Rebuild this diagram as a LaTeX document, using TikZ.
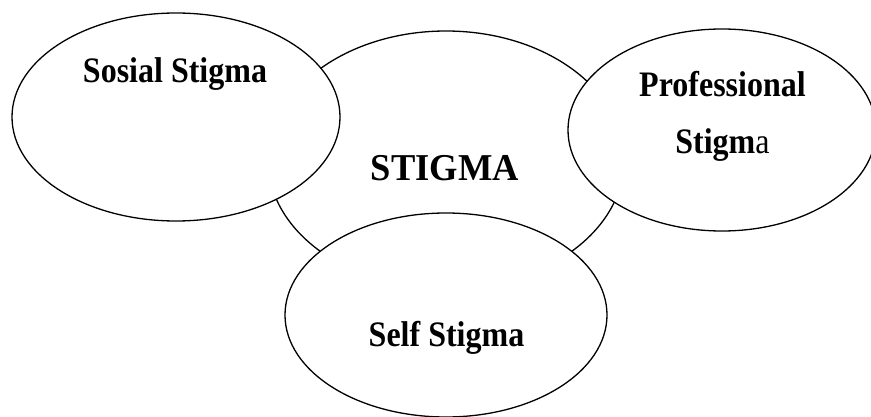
\documentclass[tikz,border=0pt]{standalone}
\usepackage{fontspec}
\usepackage{graphicx}
\setmainfont{Liberation Serif}
\usetikzlibrary{shapes.geometric}
\newcommand{\tallbox}[1]{\scalebox{1}[1.12]{#1}}
\newcommand{\tallboxb}[1]{\scalebox{1}[1.04]{#1}}
\begin{document}
\begin{tikzpicture}[x=1pt,y=-1pt,
  oval/.style={draw=black,line width=1.3pt,fill=white,ellipse,inner sep=0pt},
  lbl/.style={font=\fontsize{32}{36}\selectfont\bfseries,inner sep=0pt,anchor=base},
  bigl/.style={font=\fontsize{36.5}{42}\selectfont\bfseries,inner sep=0pt,anchor=base}]
\useasboundingbox (0,0) rectangle (871,417);
\node[oval,minimum width=356pt,minimum height=258pt] (center) at (446,160) {};
\node[oval,minimum width=328pt,minimum height=208pt] (sosial) at (176,117) {};
\node[oval,minimum width=308pt,minimum height=202pt] (prof) at (722,130) {};
\node[oval,minimum width=322pt,minimum height=204pt] (self) at (446,315) {};
\node[bigl] (tcenter) at (445,181) {\tallboxb{STIGMA}};
\node[lbl] (tsosial) at (175,83) {\tallbox{Sosial Stigma}};
\node[lbl] (tprof1) at (722.5,97) {\tallbox{Professional}};
\node[lbl] (tprof2) at (722.5,154) {\tallbox{Stigm{\mdseries a}}};
\node[lbl] (tself) at (446.5,346) {\tallbox{Self Stigma}};
\end{tikzpicture}
\end{document}
